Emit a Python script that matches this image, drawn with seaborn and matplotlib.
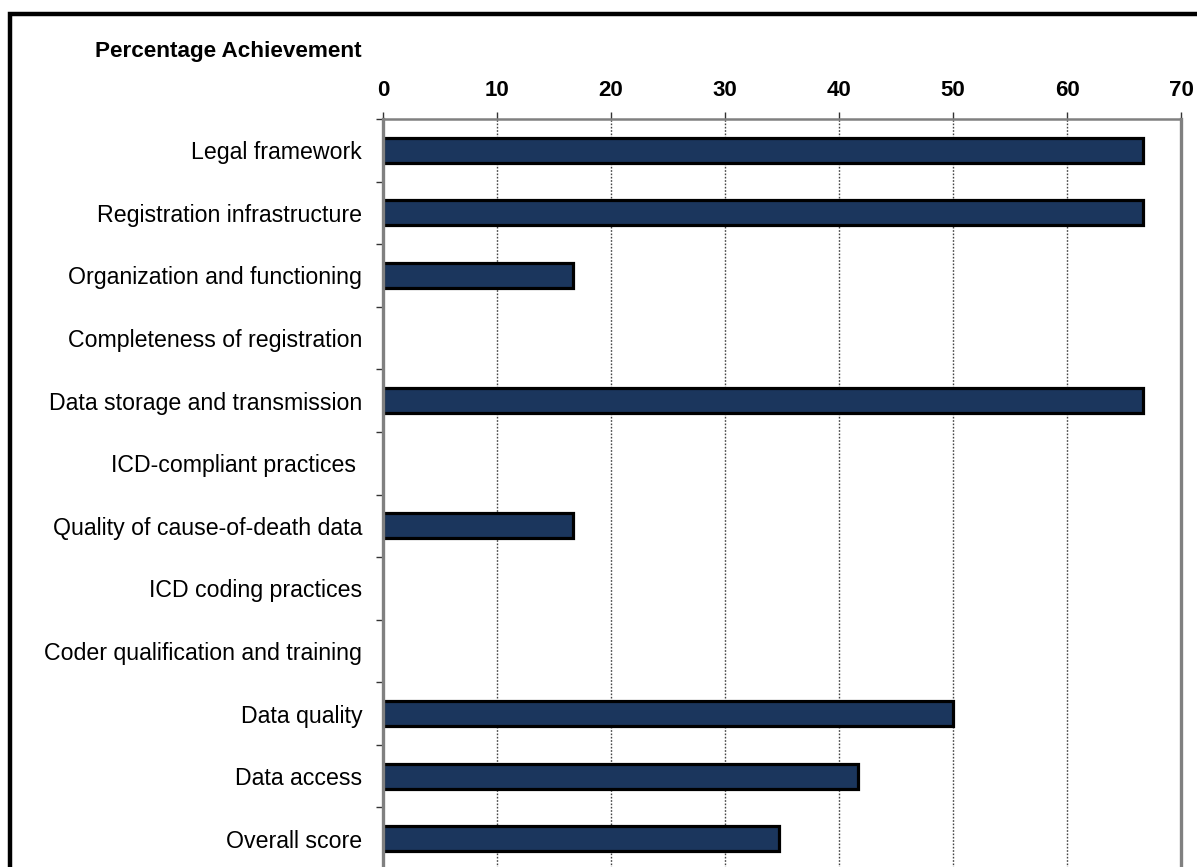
import matplotlib
matplotlib.use("Agg")
import matplotlib.pyplot as plt
from matplotlib.patches import Rectangle
import seaborn as sns
import pandas as pd
import numpy as np

categories = [
    "Legal framework",
    "Registration infrastructure",
    "Organization and functioning",
    "Completeness of registration",
    "Data storage and transmission",
    "ICD-compliant practices ",
    "Quality of cause-of-death data",
    "ICD coding practices",
    "Coder qualification and training",
    "Data quality",
    "Data access",
    "Overall score",
]
values = [66.7, 66.7, 16.7, 0, 66.7, 0, 16.7, 0, 0, 50.0, 41.7, 34.7]
x_ticks = [0, 10, 20, 30, 40, 50, 60, 70]
title = "Percentage Achievement"

sns.set_theme(style="white")
plt.rcParams["font.family"] = ["Liberation Sans", "DejaVu Sans"]
plt.rcParams["text.color"] = "black"
plt.rcParams["xtick.color"] = "black"
plt.rcParams["ytick.color"] = "black"

W, H = 1197, 867
fig = plt.figure(figsize=(W / 100, H / 100), dpi=100)
fig.patch.set_facecolor("white")

left = 383 / W
right = 1181 / W
top = 1 - 119 / H
bottom = 1 - 870 / H
ax = fig.add_axes([left, bottom, right - left, top - bottom])

df = pd.DataFrame({"category": categories, "value": values})
sns.barplot(data=df, x="value", y="category", orient="h", color="#1B365D",
            edgecolor="black", linewidth=2.3, width=0.4, saturation=1,
            ax=ax, zorder=2)
for p in ax.patches:
    if p.get_width() == 0:
        p.set_linewidth(0)

ax.set_xlim(0, 70)
ax.set_ylim(len(categories) - 0.5, -0.5)
ax.xaxis.tick_top()
ax.set_xticks(x_ticks)
ax.set_xticklabels([str(t) for t in x_ticks], fontweight="bold", fontsize=16,
                   color="black")
ax.tick_params(axis="x", which="major", direction="out", length=5, width=1,
               color="#333333", labelcolor="black", pad=8, top=True, bottom=False)
ax.set_xlabel("")
ax.set_ylabel("")

ax.set_yticks(np.arange(len(categories)))
ax.set_yticklabels(categories, fontsize=16.7, color="black")
ax.set_yticks(np.arange(len(categories) + 1) - 0.5, minor=True)
ax.tick_params(axis="y", which="major", length=0, pad=15, labelcolor="black")
ax.tick_params(axis="y", which="minor", length=5, width=1, color="#333333",
               direction="out", left=True)

ax.grid(axis="x", which="major", linestyle=(0, (1.2, 1.2)), color="#444444",
        linewidth=1, zorder=0)
ax.grid(axis="y", visible=False)
ax.set_axisbelow(True)

for s in ["left", "right"]:
    ax.spines[s].set_color("#808080")
    ax.spines[s].set_linewidth(2.4)
ax.spines["top"].set_color("#808080")
ax.spines["top"].set_linewidth(1.8)
ax.spines["bottom"].set_visible(False)

fig.text(95 / W, 1 - 52 / H, title, fontsize=16.2, fontweight="bold",
         ha="left", va="center", color="black")

border = Rectangle((10 / W, -0.5), 2.0, (1 - 13.5 / H) + 0.5,
                   transform=fig.transFigure, fill=False, edgecolor="black",
                   linewidth=3.2, zorder=10)
fig.patches.append(border)

fig.savefig("out.png", dpi=100, facecolor="white")
